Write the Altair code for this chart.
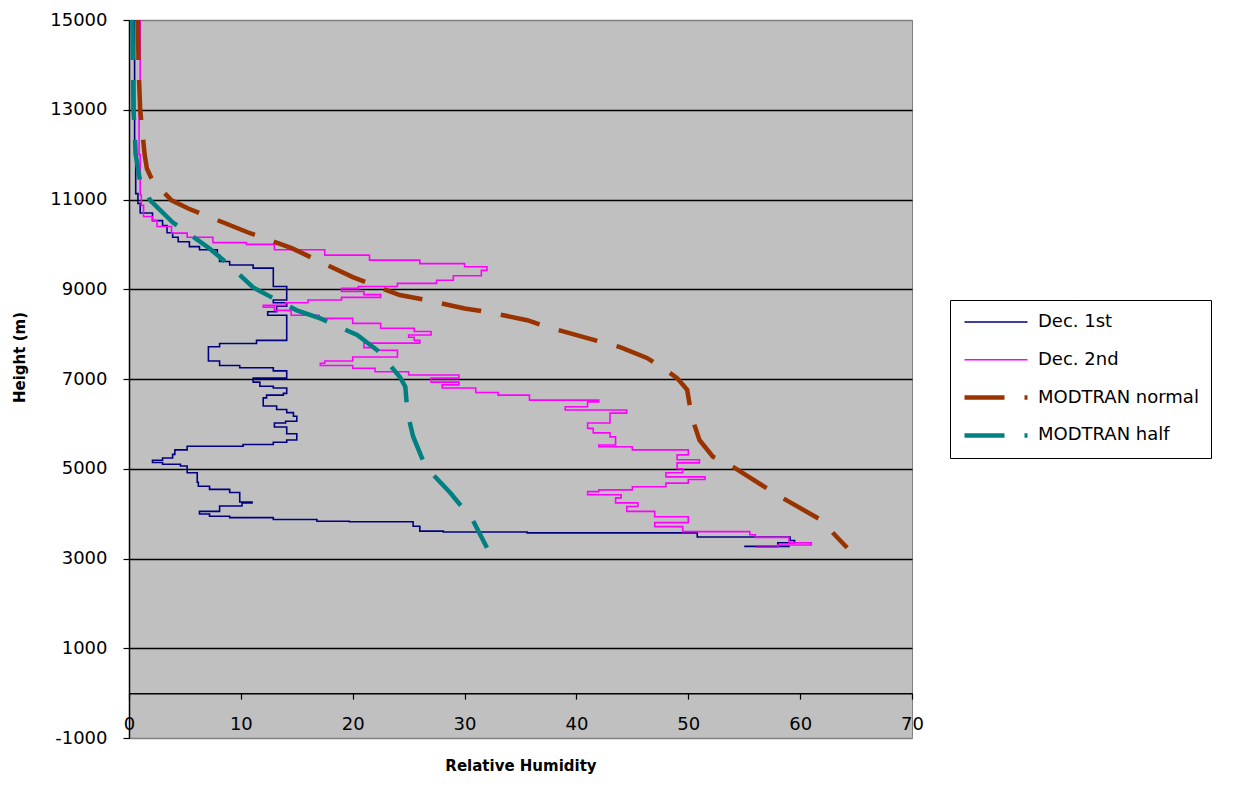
import altair as alt
import pandas as pd

series_names = ["Dec. 1st", "Dec. 2nd", "MODTRAN normal", "MODTRAN half"]
series_colors = ["#000080", "#FF00FF", "#993300", "#008080"]

# Dec. 1st sounding (stepped): height of each step and RH value reached there
dec1_height = [15000, 13000, 12000, 11130, 10910, 10700, 10530, 10420, 10260, 10160,
               10060, 9950, 9880, 9760, 9620, 9540, 9470, 9060, 8760, 8700,
               8620, 8500, 8420, 7860, 7790, 7720, 7400, 7300, 7250, 7180,
               7020, 6930, 6840, 6800, 6680, 6640, 6580, 6400, 6320, 6250,
               6170, 6060, 6020, 5930, 5780, 5640, 5590, 5540, 5500, 5420,
               5320, 5240, 5190, 5140, 5100, 5060, 4910, 4700, 4610, 4540,
               4470, 4260, 4240, 4170, 4050, 3990, 3940, 3910, 3870, 3830,
               3820, 3720, 3610, 3590, 3570, 3480, 3400, 3350, 3280, 3270]
dec1_rh = [0.5, 0.5, 0.6, 0.8, 1.0, 2.1, 3.0, 3.4, 3.9, 4.4,
           5.4, 6.3, 7.9, 8.1, 9.0, 11.1, 12.9, 14.1, 12.9, 14.1,
           13.2, 12.4, 14.1, 11.4, 8.1, 7.1, 8.1, 9.9, 12.9, 14.1,
           11.1, 11.7, 12.9, 14.1, 13.8, 12.3, 12.0, 13.2, 14.1, 14.7,
           15.0, 14.0, 13.0, 14.1, 15.0, 14.1, 12.9, 10.2, 5.2, 4.1,
           3.9, 3.0, 2.1, 3.0, 4.6, 5.2, 6.1, 6.2, 7.2, 9.0,
           9.9, 11.0, 10.1, 8.1, 6.3, 7.2, 9.0, 12.9, 16.8, 19.7,
           25.4, 26.0, 28.1, 35.6, 50.8, 59.1, 59.5, 58.0, 59.0, 55.0]

# Dec. 2nd sounding (stepped)
dec2_height = [15000, 13000, 12000, 11100, 10870, 10620, 10530, 10400, 10250, 10160,
               10040, 10000, 9880, 9760, 9650, 9570, 9500, 9420, 9300, 9200,
               9130, 9060, 9020, 8950, 8880, 8820, 8760, 8700, 8640, 8600,
               8530, 8420, 8350, 8240, 8130, 8060, 7980, 7930, 7860, 7800,
               7700, 7640, 7490, 7400, 7350, 7300, 7240, 7160, 7090, 7020,
               6930, 6870, 6800, 6700, 6640, 6530, 6490, 6380, 6310, 6240,
               6100, 6020, 5900, 5800, 5710, 5530, 5490, 5420, 5310, 5200,
               5130, 5000, 4910, 4820, 4760, 4680, 4600, 4530, 4490, 4420,
               4350, 4240, 4160, 4050, 3930, 3800, 3710, 3600, 3530, 3470,
               3350, 3300, 3250]
dec2_rh = [1.0, 0.9, 1.0, 1.1, 1.3, 2.1, 2.5, 3.8, 5.2, 7.5,
           10.5, 13.0, 17.5, 21.5, 26.0, 30.0, 32.0, 31.5, 29.0, 27.5,
           24.0, 20.5, 19.0, 21.0, 22.5, 19.0, 16.0, 14.0, 12.0, 13.0,
           14.5, 17.0, 20.0, 22.5, 25.5, 27.0, 25.0, 25.5, 26.0, 21.0,
           22.0, 24.0, 20.0, 17.5, 17.1, 20.0, 22.0, 25.0, 29.5, 27.0,
           29.5, 28.0, 31.0, 33.0, 35.8, 42.0, 41.0, 39.0, 44.5, 43.0,
           43.0, 41.0, 41.5, 43.0, 43.5, 42.0, 45.0, 50.0, 49.0, 51.0,
           49.0, 49.5, 48.0, 51.5, 50.0, 48.0, 45.0, 42.0, 41.0, 44.0,
           43.5, 45.5, 44.5, 47.0, 50.0, 47.0, 49.5, 55.5, 56.0, 59.0,
           61.0, 58.0, 56.0]

# MODTRAN normal profile
normal_height = [15000, 14000, 13000, 12500, 12000, 11690, 11420, 10980, 10800, 10470,
                 10270, 9910, 9530, 9270, 8870, 8760, 8570, 8490, 8310, 8160,
                 7710, 7470, 7200, 7020, 6760, 6160, 5640, 5270, 5040, 4380,
                 3870, 3240]
normal_rh = [0.8, 0.85, 1.0, 1.2, 1.4, 1.6, 2.1, 3.8, 5.3, 8.6,
             10.6, 14.6, 17.8, 20.0, 24.2, 26.6, 30.0, 32.1, 35.6, 37.4,
             43.9, 46.3, 48.0, 49.0, 49.9, 50.3, 51.0, 52.2, 54.0, 58.2,
             61.8, 64.2]

# MODTRAN half profile
half_height = [15000, 14000, 13000, 12000, 11400, 10980, 10490, 9910, 9530, 9040,
               8800, 8530, 8350, 7980, 7640, 7050, 6830, 6240, 5720, 5050,
               4470, 3870, 3240]
half_rh = [0.3, 0.35, 0.4, 0.6, 1.0, 1.9, 3.9, 7.2, 9.0, 11.1,
           12.9, 15.0, 17.1, 20.4, 22.2, 24.2, 24.7, 24.9, 25.4, 26.5,
           28.7, 30.7, 32.0]

x_ticks = [0, 10, 20, 30, 40, 50, 60, 70]
y_ticks = [-1000, 1000, 3000, 5000, 7000, 9000, 11000, 13000, 15000]

rows = []
for name, kind, hs, vs in [
    ("Dec. 1st", "sonde", dec1_height, dec1_rh),
    ("Dec. 2nd", "sonde", dec2_height, dec2_rh),
    ("MODTRAN normal", "model", normal_height, normal_rh),
    ("MODTRAN half", "model", half_height, half_rh),
]:
    for i, (h, v) in enumerate(zip(hs, vs)):
        rows.append({"series": name, "kind": kind, "height": h, "rh": v, "idx": i})
df = pd.DataFrame(rows)

FONT = "DejaVu Sans"

x_enc = alt.X(
    "rh:Q",
    scale=alt.Scale(domain=[0, 70], nice=False, zero=False),
    axis=alt.Axis(
        values=x_ticks, title="Relative Humidity", offset=-44.875,
        labelExpr="datum.value + ''",
        grid=False, domainColor="black", domainWidth=1.5,
        tickColor="black", tickSize=6, tickWidth=1.2,
        labelFont=FONT, labelFontSize=18, labelColor="black",
        labelPadding=16, labelFlush=False, labelOverlap=False,
        titleFont=FONT, titleFontSize=15, titleFontWeight="bold",
        titleColor="black", titlePadding=25,
    ),
)
y_enc = alt.Y(
    "height:Q",
    scale=alt.Scale(domain=[-1000, 15000], nice=False, zero=False),
    axis=alt.Axis(
        values=y_ticks, title="Height (m)",
        labelExpr="datum.value + ''",
        grid=True,
        gridColor={"condition": {"test": "datum.value == 15000 || datum.value == -1000",
                                 "value": "#808080"}, "value": "black"},
        gridWidth=1.6,
        domainColor="black", domainWidth=1.5,
        tickColor="black", tickSize=6, tickWidth=1.2,
        labelFont=FONT, labelFontSize=18, labelColor="black",
        labelPadding=16, labelOverlap=False, labelFlush=False,
        titleFont=FONT, titleFontSize=15, titleFontWeight="bold",
        titleColor="black", titleX=-102, titleY=337,
    ),
)

color_enc = alt.Color(
    "series:N",
    scale=alt.Scale(domain=series_names, range=series_colors),
    legend=alt.Legend(
        title=None, orient="none", legendX=821, legendY=280,
        fillColor="white", strokeColor="black", padding=12,
        symbolType="stroke", symbolSize=3969, clipHeight=20,
        rowPadding=17.8, labelOffset=8, labelLimit=400,
        labelFont=FONT, labelFontSize=18, labelColor="black",
    ),
)
width_enc = alt.StrokeWidth(
    "series:N",
    scale=alt.Scale(type="ordinal", domain=series_names, range=[1.6, 1.6, 4.5, 4.5]),
)
dash_enc = alt.StrokeDash(
    "series:N",
    scale=alt.Scale(type="ordinal", domain=series_names,
                    range=[[1, 0], [1, 0], [40, 20], [40, 20]]),
)

base = alt.Chart(df).encode(
    x=x_enc, y=y_enc, color=color_enc, strokeWidth=width_enc, strokeDash=dash_enc,
    order=alt.Order("idx:Q"),
)

sonde = base.transform_filter(alt.datum.kind == "sonde").mark_line(interpolate="step-before")
model = base.transform_filter(alt.datum.kind == "model").mark_line(interpolate="linear")

chart = alt.layer(sonde, model).properties(
    width=783, height=718,
    autosize=alt.AutoSizeParams(type="none"),
    padding={"left": 129, "top": 20, "right": 323, "bottom": 52},
    background="white",
).configure_view(
    fill="#C0C0C0", stroke="#808080", strokeWidth=1,
)

chart.save("out.html", embed_options={"renderer": "svg", "actions": False})
